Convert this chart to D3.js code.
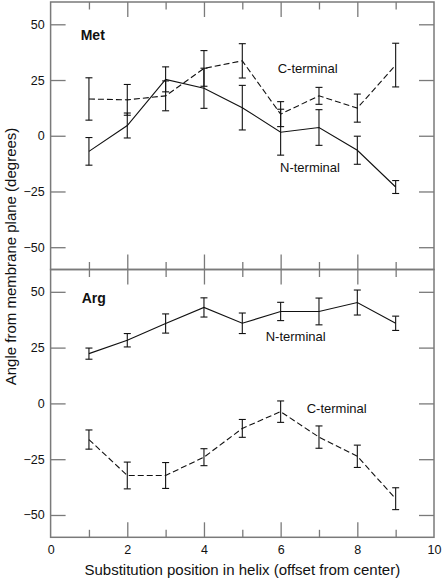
<!DOCTYPE html>
<html>
<head>
<meta charset="utf-8">
<script src="https://cdn.jsdelivr.net/npm/d3@7"></script>
<style>
  html, body { margin: 0; padding: 0; background: #fff; }
  svg { display: block; font-family: "Liberation Sans", Arial, Helvetica, sans-serif; }
</style>
</head>
<body>
<svg id="chart" width="442" height="580"></svg>
<script>
// ---- data ----
const positions = [1, 2, 3, 4, 5, 6, 7, 8, 9];
const metN    = [-7.0, 4.6, 25.3, 21.3, 12.6, 1.6, 3.7, -6.5, -23.0];
const metNErr = [6.2, 5.6, 5.6, 9.0, 10.0, 10.3, 8.0, 6.3, 2.9];
const metC    = [16.5, 16.1, 17.9, 30.2, 33.6, 9.7, 17.9, 12.4, 31.7];
const metCErr = [9.5, 6.9, 6.7, 8.0, 7.7, 5.6, 3.8, 6.3, 9.8];
const argN    = [22.3, 28.3, 35.8, 43.0, 35.9, 41.2, 41.2, 45.2, 35.9];
const argNErr = [2.5, 3.0, 4.3, 4.3, 4.6, 4.1, 6.0, 5.6, 3.2];
const argC    = [-16.2, -32.3, -32.3, -24.1, -11.2, -3.7, -15.1, -23.7, -42.7];
const argCErr = [4.3, 6.0, 5.8, 3.8, 4.0, 4.8, 5.0, 5.0, 4.9];
const yTicks = [-50, -25, 0, 25, 50];
const xMajorTicks = [0, 2, 4, 6, 8, 10];
const xMinorTicks = [1, 3, 5, 7, 9];
const xTitle = "Substitution position in helix (offset from center)";
const yTitle = "Angle from membrane plane (degrees)";

// ---- layout ----
const svg = d3.select("#chart");
const left = 50.6, right = 434;
const frameColor = "#7a7a7a";
const x = d3.scaleLinear().domain([0, 10]).range([left, right]);

const panels = [
  { name: "Met", top: 2, bottom: 269.5,
    series: [
      { vals: metN, errs: metNErr, dash: null },
      { vals: metC, errs: metCErr, dash: "6,3" }
    ],
    labels: [
      { text: "Met", x: 80.7, y: 40, bold: true },
      { text: "C-terminal", x: 277.7, y: 73 },
      { text: "N-terminal", x: 280, y: 171.5 }
    ] },
  { name: "Arg", top: 269.5, bottom: 537.3,
    series: [
      { vals: argN, errs: argNErr, dash: null },
      { vals: argC, errs: argCErr, dash: "6,3" }
    ],
    labels: [
      { text: "Arg", x: 81.7, y: 303, bold: true },
      { text: "N-terminal", x: 265.7, y: 340.5 },
      { text: "C-terminal", x: 306.7, y: 413 }
    ] }
];

panels.forEach((p, pi) => {
  const y = d3.scaleLinear().domain([-60, 60]).range([p.bottom, p.top]);
  const g = svg.append("g");

  // left axis with labels
  const la = g.append("g").attr("transform", `translate(${left},0)`)
    .call(d3.axisLeft(y).tickValues(yTicks).tickSize(-15).tickPadding(6).tickSizeOuter(0));
  // right axis
  const ra = g.append("g").attr("transform", `translate(${right},0)`)
    .call(d3.axisRight(y).tickValues(yTicks).tickSize(-15).tickFormat("").tickSizeOuter(0));
  // top axes (major + minor)
  const ta1 = g.append("g").attr("transform", `translate(0,${p.top})`)
    .call(d3.axisTop(x).tickValues(xMajorTicks.slice(1, -1)).tickSize(-15).tickFormat("").tickSizeOuter(0));
  const ta2 = g.append("g").attr("transform", `translate(0,${p.top})`)
    .call(d3.axisTop(x).tickValues(xMinorTicks).tickSize(-7.5).tickFormat("").tickSizeOuter(0));
  // bottom axes
  const ba1 = g.append("g").attr("transform", `translate(0,${p.bottom})`)
    .call(d3.axisBottom(x).tickValues(pi === 1 ? xMajorTicks : xMajorTicks.slice(1, -1)).tickSize(-15).tickPadding(8).tickSizeOuter(0)
      .tickFormat(pi === 1 ? d3.format("d") : ""));
  const ba2 = g.append("g").attr("transform", `translate(0,${p.bottom})`)
    .call(d3.axisBottom(x).tickValues(xMinorTicks).tickSize(-7.5).tickFormat("").tickSizeOuter(0));

  [la, ra, ta1, ta2, ba1, ba2].forEach(a => {
    a.select(".domain").remove();
    a.selectAll(".tick line").attr("stroke", frameColor).attr("stroke-width", 1.3);
    a.selectAll(".tick text").attr("fill", "#111").style("font-size", "12.5px")
      .style("font-family", '"Liberation Sans", Arial, Helvetica, sans-serif');
  });
  if (pi === 1) {
    ba1.selectAll(".tick text").attr("dy", "0.71em");
    // hide ticks at edges (0 and 10) but keep labels
    ba1.selectAll(".tick").filter(d => d === 0 || d === 10).select("line").remove();
  }

  // frame
  g.append("rect").attr("x", left).attr("y", p.top)
    .attr("width", right - left).attr("height", p.bottom - p.top)
    .attr("fill", "none").attr("stroke", frameColor).attr("stroke-width", 1.5);

  // series
  p.series.forEach(s => {
    const pts = positions.map((px, i) => ({ x: px, v: s.vals[i], e: s.errs[i] }));
    const line = d3.line().x(d => x(d.x)).y(d => y(d.v));
    g.append("path").datum(pts).attr("d", line)
      .attr("fill", "none").attr("stroke", "#111").attr("stroke-width", 1.1)
      .attr("stroke-dasharray", s.dash);
    const eb = g.append("g").attr("stroke", "#111").attr("stroke-width", 1.1);
    pts.forEach(d => {
      const cx = x(d.x), y1 = y(d.v + d.e), y2 = y(d.v - d.e);
      eb.append("line").attr("x1", cx).attr("x2", cx).attr("y1", y1).attr("y2", y2);
      eb.append("line").attr("x1", cx - 3.5).attr("x2", cx + 3.5).attr("y1", y1).attr("y2", y1);
      eb.append("line").attr("x1", cx - 3.5).attr("x2", cx + 3.5).attr("y1", y2).attr("y2", y2);
    });
  });

  // labels
  p.labels.forEach(l => {
    g.append("text").attr("x", l.x).attr("y", l.y).text(l.text)
      .attr("fill", "#111")
      .style("font-size", l.bold ? "14px" : "13px")
      .style("font-weight", l.bold ? "bold" : "normal");
  });
});

// axis titles
svg.append("text").attr("x", (left + right) / 2).attr("y", 575)
  .attr("text-anchor", "middle").style("font-size", "15px").attr("fill", "#111").text(xTitle);
svg.append("text").attr("transform", "translate(15.5,256.5) rotate(-90)")
  .attr("text-anchor", "middle").style("font-size", "15px").attr("fill", "#111").text(yTitle);
</script>
</body>
</html>
